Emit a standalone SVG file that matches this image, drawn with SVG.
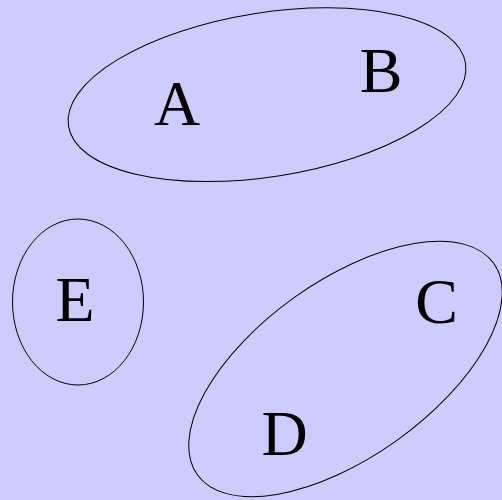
<svg xmlns="http://www.w3.org/2000/svg" width="502" height="500" viewBox="0 0 502 500">
<style>
.set{fill:none;stroke:#000;stroke-width:1}
.lbl{font-family:"Liberation Serif","Times New Roman",serif;font-size:64px;fill:#000;text-anchor:middle}
</style>
<rect width="502" height="500" fill="#ccccff"/>
<g id="set-AB"><ellipse class="set" cx="267" cy="94.7" rx="201" ry="82" transform="rotate(-9 267 94.7)"/></g>
<g id="set-E"><ellipse class="set" cx="78" cy="302" rx="65.5" ry="83"/></g>
<g id="set-CD"><ellipse class="set" cx="345.5" cy="369" rx="182" ry="88" transform="rotate(-35.5 345.5 369)"/></g>
<g id="node-A"><text class="lbl" x="177" y="125">A</text></g>
<g id="node-B"><text class="lbl" x="381" y="92">B</text></g>
<g id="node-E"><text class="lbl" x="75" y="321">E</text></g>
<g id="node-C"><text class="lbl" x="436.5" y="323">C</text></g>
<g id="node-D"><text class="lbl" x="284.5" y="455">D</text></g>
<g id="connectors"></g>
</svg>
